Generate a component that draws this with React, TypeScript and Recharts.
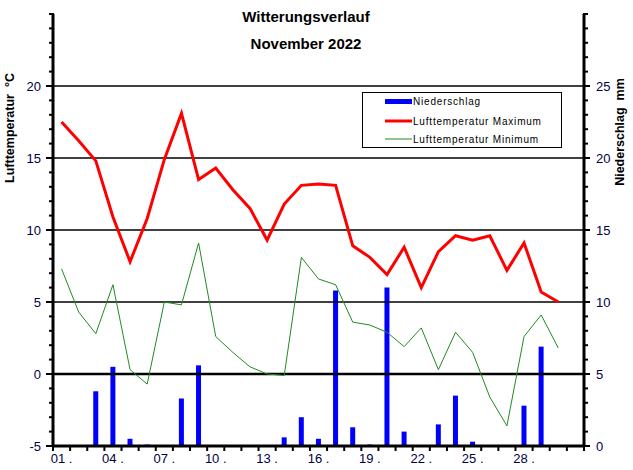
import { ComposedChart, Bar, Line, XAxis, YAxis, ReferenceLine } from 'recharts'

const days = [1, 2, 3, 4, 5, 6, 7, 8, 9, 10, 11, 12, 13, 14, 15, 16, 17, 18, 19, 20, 21, 22, 23, 24, 25, 26, 27, 28, 29, 30]
const tempMax = [17.5, 16.2, 14.8, 10.9, 7.8, 10.8, 14.9, 18.1, 13.5, 14.3, 12.8, 11.5, 9.3, 11.8, 13.1, 13.2, 13.1, 8.9, 8.1, 6.9, 8.8, 6.0, 8.5, 9.6, 9.3, 9.6, 7.2, 9.1, 5.7, 5.0]
const tempMin = [7.3, 4.3, 2.8, 6.2, 0.3, -0.7, 5.0, 4.8, 9.1, 2.6, 1.5, 0.5, 0.0, -0.1, 8.1, 6.6, 6.2, 3.6, 3.4, 2.9, 1.9, 3.2, 0.3, 2.9, 1.5, -1.6, -3.6, 2.6, 4.1, 1.8]
const precip = [0, 0, 3.8, 5.5, 0.5, 0.1, 0, 3.3, 5.6, 0, 0, 0, 0, 0.6, 2.0, 0.5, 10.8, 1.3, 0.1, 11.0, 1.0, 0, 1.5, 3.5, 0.3, 0, 0, 2.8, 6.9, 0]

const labelDays = [1, 4, 7, 10, 13, 16, 19, 22, 25, 28]
const tempTicks = [-5, -4, -3, -2, -1, 0, 1, 2, 3, 4, 5, 6, 7, 8, 9, 10, 11, 12, 13, 14, 15, 16, 17, 18, 19, 20, 21, 22, 23, 24, 25]
const tempLabels = [-5, 0, 5, 10, 15, 20]
const precipTicks = [0, 1, 2, 3, 4, 5, 6, 7, 8, 9, 10, 11, 12, 13, 14, 15, 16, 17, 18, 19, 20, 21, 22, 23, 24, 25, 26, 27, 28, 29, 30]
const precipLabels = [0, 5, 10, 15, 20, 25]
const gridLines = [5, 10, 15, 20]

const data = days.map((d, i) => ({ day: d, max: tempMax[i], min: tempMin[i], rain: precip[i] }))
// tick marks sit on the day boundaries, labels on the days
const xTicks = [...Array.from({ length: 32 }, (_, i) => i + 0.5), ...labelDays]

const tickColor = '#00003f'
const font = 'Arial, "Liberation Sans", sans-serif'

const pad = (d: number) => (d < 10 ? '0' + d : '' + d) + ' .'

function XTick({ x, y, payload }: any) {
  const v = payload.value
  if (Number.isInteger(v)) {
    return (
      <text x={x} y={y + 17} textAnchor="middle" fontSize={13} fontFamily={font} fill={tickColor}>
        {pad(v)}
      </text>
    )
  }
  return <line x1={x} x2={x} y1={y} y2={y + 5} stroke="#000" strokeWidth={2} />
}

function LeftTick({ x, y, payload }: any) {
  const major = tempLabels.includes(payload.value)
  return (
    <g>
      <line x1={major ? x - 7 : x - 4} x2={x + 1} y1={y} y2={y} stroke="#000" strokeWidth={2} />
      {major && (
        <text x={x - 12} y={y} dy={4.5} textAnchor="end" fontSize={13} fontFamily={font} fill={tickColor}>
          {payload.value}
        </text>
      )}
    </g>
  )
}

function RightTick({ x, y, payload }: any) {
  const major = precipLabels.includes(payload.value)
  return (
    <g>
      <line x1={x - 1} x2={major ? x + 6 : x + 4} y1={y} y2={y} stroke="#000" strokeWidth={2} />
      {major && (
        <text x={x + 12} y={y} dy={4.5} textAnchor="start" fontSize={13} fontFamily={font} fill={tickColor}>
          {payload.value}
        </text>
      )}
    </g>
  )
}

export default function App() {
  return (
    <div style={{ position: 'absolute', left: 0, top: 0, width: 633, height: 470, background: '#fff' }}>
      <ComposedChart width={633} height={470} data={data} margin={{ top: 14, right: 0, bottom: 0, left: 0 }}>
        <XAxis
          dataKey="day"
          type="number"
          domain={[0.5, 31.5]}
          ticks={xTicks}
          interval={0}
          height={24}
          tickSize={0}
          tickMargin={0}
          tickLine={false}
          tick={<XTick />}
          axisLine={{ stroke: '#000', strokeWidth: 3 }}
        />
        <YAxis
          yAxisId="t"
          orientation="left"
          domain={[-5, 25]}
          ticks={tempTicks}
          interval={0}
          width={53}
          tickSize={0}
          tickMargin={0}
          tickLine={false}
          tick={<LeftTick />}
          axisLine={{ stroke: '#000', strokeWidth: 3 }}
        />
        <YAxis
          yAxisId="p"
          orientation="right"
          domain={[0, 30]}
          ticks={precipTicks}
          interval={0}
          width={49}
          tickSize={0}
          tickMargin={0}
          tickLine={false}
          tick={<RightTick />}
          axisLine={{ stroke: '#000', strokeWidth: 3 }}
        />
        {gridLines.map((g) => (
          <ReferenceLine key={g} yAxisId="t" y={g} stroke="#000" strokeWidth={1.3} />
        ))}
        <ReferenceLine yAxisId="t" y={0} stroke="#000" strokeWidth={2.6} />
        <Bar dataKey="rain" yAxisId="p" fill="#0000ff" barSize={5} isAnimationActive={false} />
        <Line dataKey="min" yAxisId="t" type="linear" stroke="#1e8c1e" strokeWidth={1} dot={false} isAnimationActive={false} />
        <Line dataKey="max" yAxisId="t" type="linear" stroke="#ff0000" strokeWidth={3} dot={false} isAnimationActive={false} />
      </ComposedChart>
      <svg width={633} height={470} style={{ position: 'absolute', left: 0, top: 0, pointerEvents: 'none' }} fontFamily={font}>
        <text x={306} y={17} dy={5} textAnchor="middle" fontSize={15} fontWeight="bold" fill="#000">
          Witterungsverlauf
        </text>
        <text x={306} y={44} dy={5} textAnchor="middle" fontSize={15} fontWeight="bold" fill="#000">
          November 2022
        </text>
        <text x={10} y={128} dy={4} textAnchor="middle" fontSize={12.5} fontWeight="bold" transform="rotate(-90 10 128)">
          {'Lufttemperatur\u00a0\u00a0°C'}
        </text>
        <text x={620} y={132} dy={4} textAnchor="middle" fontSize={12.5} fontWeight="bold" transform="rotate(-90 620 132)">
          {'Niederschlag\u00a0\u00a0mm'}
        </text>
        <rect x={362.5} y={92.5} width={199} height={55} fill="#fff" stroke="#000" strokeWidth={1} />
        <rect x={385} y={99} width={27} height={5} fill="#0000ff" />
        <line x1={385} x2={412} y1={121} y2={121} stroke="#ff0000" strokeWidth={3} />
        <line x1={385} x2={412} y1={139} y2={139} stroke="#1e8c1e" strokeWidth={1} />
        <text x={413} y={101.5} dy={3.5} fontSize={10} letterSpacing={0.8}>Niederschlag</text>
        <text x={413} y={121} dy={3.5} fontSize={10} letterSpacing={0.8}>Lufttemperatur Maximum</text>
        <text x={413} y={139} dy={3.5} fontSize={10} letterSpacing={0.8}>Lufttemperatur Minimum</text>
      </svg>
    </div>
  )
}
